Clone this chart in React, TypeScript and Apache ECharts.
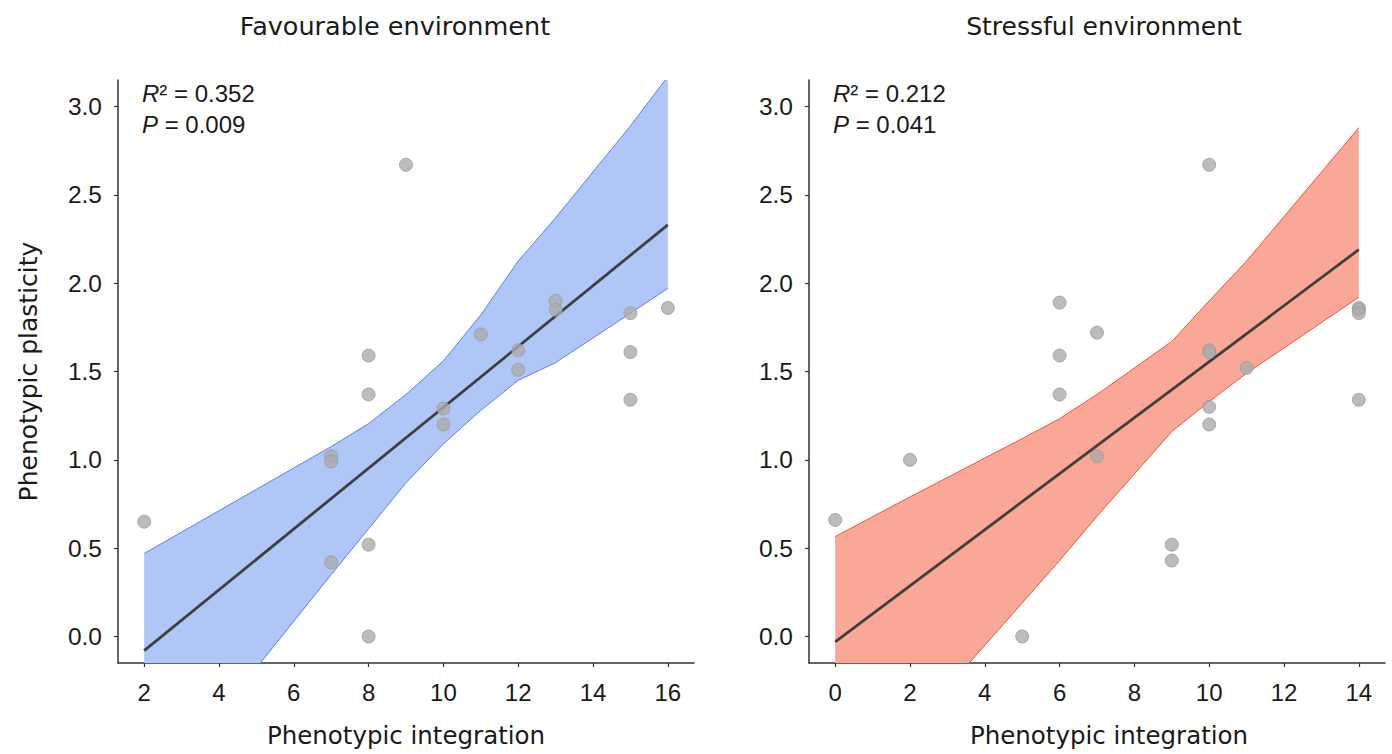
import React, { useEffect, useRef } from "react";
import * as echarts from "echarts";

// ---------- Data ----------
const favX = [9, 13, 13, 15, 16, 11, 12, 12, 15, 8, 8, 15, 10, 10, 7, 7, 2, 8, 7, 8];
const favY = [2.67, 1.9, 1.85, 1.83, 1.86, 1.71, 1.62, 1.51, 1.61, 1.59, 1.37, 1.34, 1.29, 1.2, 1.02, 0.99, 0.65, 0.52, 0.42, 0.0];

const strX = [10, 6, 14, 14, 14, 7, 6, 10, 10, 11, 6, 14, 10, 10, 7, 2, 0, 9, 9, 5];
const strY = [2.67, 1.89, 1.86, 1.85, 1.83, 1.72, 1.59, 1.62, 1.61, 1.52, 1.37, 1.34, 1.3, 1.2, 1.02, 1.0, 0.66, 0.52, 0.43, 0.0];

const favLineX = [2, 16];
const favLineY = [-0.08, 2.33];
const strLineX = [0, 14];
const strLineY = [-0.03, 2.19];

const favBandX = [2, 7, 8, 9, 10, 11, 12, 13, 15, 16];
const favBandUpper = [0.47, 1.075, 1.205, 1.37, 1.56, 1.82, 2.125, 2.37, 2.89, 3.17];
const favBandLower = [-0.97, 0.35, 0.61, 0.87, 1.09, 1.28, 1.45, 1.55, 1.83, 1.97];

const strBandX = [0, 2, 5, 6, 7, 9, 10, 11, 14];
const strBandUpper = [0.566, 0.79, 1.12, 1.233, 1.37, 1.67, 1.9, 2.125, 2.88];
const strBandLower = [-1.0, -0.53, 0.19, 0.43, 0.68, 1.16, 1.33, 1.49, 1.92];

const favXTicks = [2, 4, 6, 8, 10, 12, 14, 16];
const strXTicks = [0, 2, 4, 6, 8, 10, 12, 14];
const yTicks = [0, 0.5, 1.0, 1.5, 2.0, 2.5, 3.0];

const titles = ["Favourable environment", "Stressful environment"];
const xName = "Phenotypic integration";
const yName = "Phenotypic plasticity";
const stats = [
  { r2: "0.352", p: "0.009" },
  { r2: "0.212", p: "0.041" },
];

// ---------- Styling ----------
const TICK_FONT = "Liberation Sans";
const NAME_FONT = "DejaVu Sans";
const TEXT = "#1a1a1a";
const AXIS = "#333333";

function bandSeries(xIdx: number, xs: number[], lo: number[], hi: number[], fill: string, edge: string) {
  return {
    type: "custom",
    xAxisIndex: xIdx,
    yAxisIndex: xIdx,
    clip: true,
    silent: true,
    z: 1,
    data: xs.map((x, i) => [x, lo[i], hi[i]]),
    renderItem: (params: any, api: any) => {
      if (params.dataIndex !== 0) return null;
      const upperPts = xs.map((x, i) => api.coord([x, hi[i]]));
      const lowerPts = xs.map((x, i) => api.coord([x, lo[i]]));
      const poly = upperPts.concat(lowerPts.slice().reverse());
      return {
        type: "group",
        children: [
          { type: "polygon", shape: { points: poly }, style: { fill, stroke: "none" } },
          { type: "polyline", shape: { points: upperPts }, style: { fill: "none", stroke: edge, lineWidth: 1 } },
          { type: "polyline", shape: { points: lowerPts }, style: { fill: "none", stroke: edge, lineWidth: 1 } },
        ],
      };
    },
  };
}

function xAxisCfg(grid: number, min: number, max: number, ticks: number[], namePad: number) {
  return {
    type: "value",
    gridIndex: grid,
    min,
    max,
    name: xName,
    nameLocation: "middle",
    nameGap: 60,
    nameTextStyle: { fontFamily: NAME_FONT, fontSize: 24.5, color: TEXT, padding: [0, 0, 0, namePad] },
    axisLine: { show: true, onZero: false, lineStyle: { color: AXIS, width: 1.5 } },
    axisTick: { show: true, length: 4, customValues: ticks, lineStyle: { color: AXIS, width: 1.2 } },
    axisLabel: { customValues: ticks, fontFamily: TICK_FONT, fontSize: 24, color: TEXT, margin: 17 },
    splitLine: { show: false },
  };
}

function yAxisCfg(grid: number, withName: boolean) {
  return {
    type: "value",
    gridIndex: grid,
    min: -0.15,
    max: 3.15,
    name: withName ? yName : "",
    nameLocation: "middle",
    nameGap: 77,
    nameRotate: 90,
    nameTextStyle: { fontFamily: NAME_FONT, fontSize: 25, color: TEXT },
    axisLine: { show: true, onZero: false, lineStyle: { color: AXIS, width: 1.5 } },
    axisTick: { show: true, length: 4, customValues: yTicks, lineStyle: { color: AXIS, width: 1.2 } },
    axisLabel: {
      customValues: yTicks,
      fontFamily: TICK_FONT,
      fontSize: 24.5,
      color: TEXT,
      margin: 16,
      formatter: (v: number) => v.toFixed(1),
    },
    splitLine: { show: false },
  };
}

function statText(x: number, s: { r2: string; p: string }) {
  const rich = {
    i: { fontFamily: TICK_FONT, fontSize: 24, fontStyle: "italic", fill: TEXT, color: TEXT },
    n: { fontFamily: TICK_FONT, fontSize: 24, fill: TEXT, color: TEXT },
  };
  return [
    {
      type: "text",
      x,
      y: 93,
      style: { text: "{i|R}{n|² = " + s.r2 + "}", rich, verticalAlign: "middle", align: "left" },
    },
    {
      type: "text",
      x,
      y: 124,
      style: { text: "{i|P}{n| = " + s.p + "}", rich, verticalAlign: "middle", align: "left" },
    },
  ];
}

export default function App() {
  const ref = useRef<HTMLDivElement>(null);
  useEffect(() => {
    if (!ref.current) return;
    const chart = echarts.init(ref.current, undefined, { renderer: "svg" });
    const pointStyle = { color: "#ababab", borderColor: "#9c9c9c", borderWidth: 1 };
    const option: any = {
      animation: false,
      backgroundColor: "#ffffff",
      grid: [
        { left: 118, top: 80, width: 576, height: 583, containLabel: false, outerBoundsMode: "none" },
        { left: 809, top: 80, width: 576, height: 583, containLabel: false, outerBoundsMode: "none" },
      ],
      xAxis: [xAxisCfg(0, 1.3, 16.7, favXTicks, 0), xAxisCfg(1, -0.7, 14.7, strXTicks, 24)],
      yAxis: [yAxisCfg(0, true), yAxisCfg(1, false)],
      graphic: [
        {
          type: "text",
          x: 395,
          y: 26,
          style: { text: titles[0], fontFamily: NAME_FONT, fontSize: 25.5, fill: TEXT, align: "center", verticalAlign: "middle" },
        },
        {
          type: "text",
          x: 1104,
          y: 26,
          style: { text: titles[1], fontFamily: NAME_FONT, fontSize: 25, fill: TEXT, align: "center", verticalAlign: "middle" },
        },
        ...statText(142, stats[0]),
        ...statText(833, stats[1]),
      ],
      series: [
        bandSeries(0, favBandX, favBandLower, favBandUpper, "#b0c6f7", "#5a82ef"),
        bandSeries(1, strBandX, strBandLower, strBandUpper, "#f9a898", "#f0553c"),
        {
          type: "line",
          xAxisIndex: 0,
          yAxisIndex: 0,
          data: favLineX.map((x, i) => [x, favLineY[i]]),
          showSymbol: false,
          lineStyle: { color: "#3f3f3f", width: 2.8 },
          z: 2,
        },
        {
          type: "line",
          xAxisIndex: 1,
          yAxisIndex: 1,
          data: strLineX.map((x, i) => [x, strLineY[i]]),
          showSymbol: false,
          lineStyle: { color: "#3f3f3f", width: 2.8 },
          z: 2,
        },
        {
          type: "scatter",
          xAxisIndex: 0,
          yAxisIndex: 0,
          data: favX.map((x, i) => [x, favY[i]]),
          symbolSize: 13,
          itemStyle: pointStyle,
          z: 3,
        },
        {
          type: "scatter",
          xAxisIndex: 1,
          yAxisIndex: 1,
          data: strX.map((x, i) => [x, strY[i]]),
          symbolSize: 13,
          itemStyle: pointStyle,
          z: 3,
        },
      ],
    };
    chart.setOption(option);
    return () => chart.dispose();
  }, []);
  return (
    <div
      ref={ref}
      style={{ position: "fixed", left: 0, top: 0, width: 1392, height: 754, background: "#fff" }}
    />
  );
}
